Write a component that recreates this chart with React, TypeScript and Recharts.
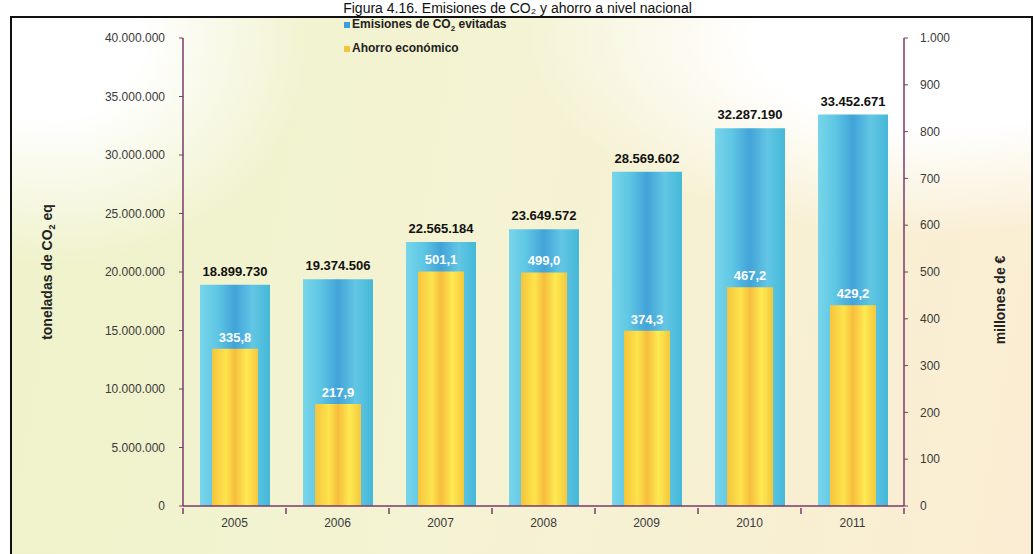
import { Bar, ComposedChart, LabelList, XAxis, YAxis } from 'recharts'

const years = ['2005', '2006', '2007', '2008', '2009', '2010', '2011']
const emisiones = [18899730, 19374506, 22565184, 23649572, 28569602, 32287190, 33452671]
const ahorro = [335.8, 217.9, 501.1, 499.0, 374.3, 467.2, 429.2]
const leftTicks = [0, 5000000, 10000000, 15000000, 20000000, 25000000, 30000000, 35000000, 40000000]
const rightTicks = [0, 100, 200, 300, 400, 500, 600, 700, 800, 900, 1000]

const data = years.map((year, i) => ({ year, emisiones: emisiones[i], ahorro: ahorro[i] }))

const W = 1035
const H = 554
const LEFT_W = 183
const RIGHT_W = 131
const TOP = 38
const X_H = 48
const BAND = (W - LEFT_W - RIGHT_W) / years.length
const AXIS = '#7b3a6b'
const FONT = 'Arial, "Liberation Sans", sans-serif'

const dots = (v: number) => String(Math.round(v)).replace(/\B(?=(\d{3})+(?!\d))/g, '.')
const comma = (v: number) => v.toFixed(1).replace('.', ',')

function YearTick(props: any) {
  const { x, y, payload, index } = props
  return (
    <g>
      <line x1={x - BAND / 2} y1={y - 6} x2={x - BAND / 2} y2={y} stroke={AXIS} strokeWidth={1.5} />
      {index === years.length - 1 && (
        <line x1={x + BAND / 2} y1={y - 6} x2={x + BAND / 2} y2={y} stroke={AXIS} strokeWidth={1.5} />
      )}
      <text x={x} y={y + 13} textAnchor="middle" fontSize={12} fill="#3a3a3a" fontFamily={FONT}>
        {payload.value}
      </text>
    </g>
  )
}

export default function App() {
  return (
    <div
      style={{
        position: 'absolute',
        left: 0,
        top: 0,
        width: W,
        height: H,
        overflow: 'hidden',
        background: '#fff',
        fontFamily: FONT,
      }}
    >
      {/* frame with soft background wash */}
      <div
        style={{
          position: 'absolute',
          left: 10,
          top: 16,
          width: W - 12,
          height: H,
          boxSizing: 'border-box',
          border: '2px solid #111',
          background:
            'radial-gradient(ellipse 420px 200px at 930px 20px, #ffffff 45%, rgba(255,255,255,0) 100%),' +
            'radial-gradient(ellipse 260px 230px at 40px 20px, #ffffff 35%, rgba(255,255,255,0) 100%),' +
            'linear-gradient(100deg, #eef2c9 0%, #f4f3d3 45%, #fbedd3 100%)',
        }}
      />
      <div
        style={{
          position: 'absolute',
          top: 0,
          left: 0,
          width: W,
          textAlign: 'center',
          fontSize: 14,
          lineHeight: '16px',
          color: '#111',
        }}
      >
        Figura 4.16. Emisiones de CO₂ y ahorro a nivel nacional
      </div>
      <div style={{ position: 'absolute', left: 0, top: 0 }}>
        <ComposedChart
          width={W}
          height={H}
          data={data}
          margin={{ top: TOP, right: 0, bottom: 0, left: 0 }}
        >
          <defs>
            <linearGradient id="blueGrad" x1="0" y1="0" x2="1" y2="0">
              <stop offset="0%" stopColor="#78d5ea" />
              <stop offset="25%" stopColor="#5ec6e4" />
              <stop offset="50%" stopColor="#42a3d8" />
              <stop offset="75%" stopColor="#62c6e4" />
              <stop offset="100%" stopColor="#45b8d8" />
            </linearGradient>
            <linearGradient id="yellowGrad" x1="0" y1="0" x2="1" y2="0">
              <stop offset="0%" stopColor="#f6c43c" />
              <stop offset="30%" stopColor="#fde44c" />
              <stop offset="50%" stopColor="#f7bd3c" />
              <stop offset="75%" stopColor="#feea52" />
              <stop offset="100%" stopColor="#f5c73c" />
            </linearGradient>
          </defs>
          <XAxis
            xAxisId="a"
            dataKey="year"
            height={X_H}
            axisLine={{ stroke: AXIS, strokeWidth: 1.5 }}
            tickLine={false}
            tick={<YearTick />}
            interval={0}
          />
          <XAxis xAxisId="b" dataKey="year" hide />
          <YAxis
            yAxisId="left"
            width={LEFT_W}
            domain={[0, 40000000]}
            ticks={leftTicks}
            tickFormatter={dots}
            axisLine={{ stroke: AXIS, strokeWidth: 1.5 }}
            tickLine={{ stroke: AXIS }}
            tickSize={4}
            tickMargin={14}
            tick={{ fontSize: 12, fill: '#3a3a3a', fontFamily: FONT }}
          />
          <YAxis
            yAxisId="right"
            orientation="right"
            width={RIGHT_W}
            domain={[0, 1000]}
            ticks={rightTicks}
            tickFormatter={dots}
            axisLine={{ stroke: AXIS, strokeWidth: 1.5 }}
            tickLine={{ stroke: AXIS }}
            tickSize={4}
            tickMargin={12}
            tick={{ fontSize: 12, fill: '#3a3a3a', fontFamily: FONT }}
          />
          <Bar
            xAxisId="a"
            yAxisId="left"
            dataKey="emisiones"
            barSize={70}
            fill="url(#blueGrad)"
            isAnimationActive={false}
          >
            <LabelList
              dataKey="emisiones"
              position="top"
              offset={9}
              formatter={(v: any) => dots(Number(v))}
              style={{ fontSize: 13, fontWeight: 'bold', fill: '#111', fontFamily: FONT }}
            />
          </Bar>
          <Bar
            xAxisId="b"
            yAxisId="right"
            dataKey="ahorro"
            barSize={46}
            fill="url(#yellowGrad)"
            isAnimationActive={false}
          >
            <LabelList
              dataKey="ahorro"
              position="top"
              offset={7}
              formatter={(v: any) => comma(Number(v))}
              style={{ fontSize: 13, fontWeight: 'bold', fill: '#ffffff', fontFamily: FONT }}
            />
          </Bar>
        </ComposedChart>
      </div>
      {/* legend */}
      <div style={{ position: 'absolute', left: 344, top: 17, fontSize: 12, fontWeight: 'bold', color: '#222' }}>
        <span style={{ display: 'inline-block', width: 6, height: 6, background: '#3a9fd6', marginRight: 2 }} />
        Emisiones de CO<sub style={{ fontSize: 8 }}>2</sub> evitadas
      </div>
      <div style={{ position: 'absolute', left: 344, top: 41, fontSize: 12, fontWeight: 'bold', color: '#222' }}>
        <span style={{ display: 'inline-block', width: 6, height: 6, background: '#f2c53a', marginRight: 2 }} />
        Ahorro económico
      </div>
      {/* axis titles */}
      <div
        style={{
          position: 'absolute',
          left: 48,
          top: 272,
          transform: 'translate(-50%, -50%) rotate(-90deg)',
          whiteSpace: 'nowrap',
          fontSize: 14,
          fontWeight: 'bold',
          color: '#222',
        }}
      >
        toneladas de CO<sub style={{ fontSize: 9 }}>2</sub> eq
      </div>
      <div
        style={{
          position: 'absolute',
          left: 1000,
          top: 300,
          transform: 'translate(-50%, -50%) rotate(-90deg)',
          whiteSpace: 'nowrap',
          fontSize: 14,
          fontWeight: 'bold',
          color: '#222',
        }}
      >
        millones de €
      </div>
    </div>
  )
}
